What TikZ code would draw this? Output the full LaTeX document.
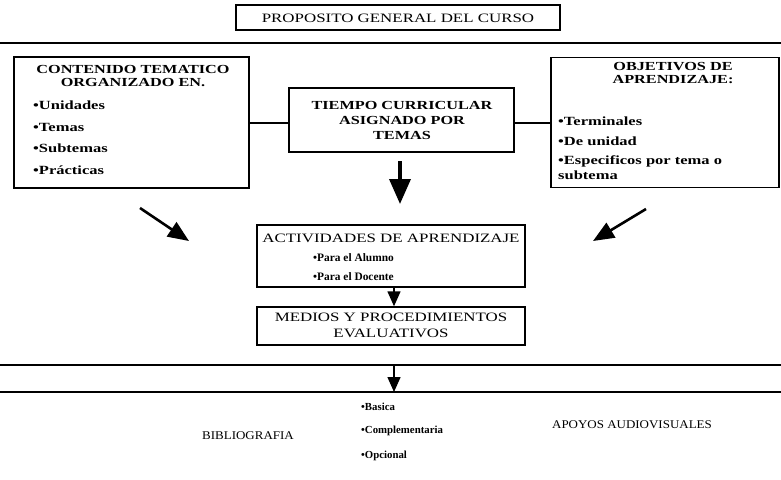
\documentclass[tikz,border=0pt]{standalone}
\usepackage{fontspec}
\setmainfont{Liberation Serif}[FakeStretch=1.32]
\newfontfamily\midfont{Liberation Serif}[FakeStretch=1.1]
\newfontfamily\plainfont{Liberation Serif}
\usetikzlibrary{arrows.meta}
\tikzset{
  boxst/.style={draw, line width=1.4pt, inner sep=0pt},
  hd/.style={inner sep=0pt, font=\fontsize{12.8}{14}\selectfont},
  hdb/.style={inner sep=0pt, font=\fontsize{12.3}{14}\selectfont\bfseries},
  bl/.style={inner sep=0pt, anchor=west, font=\fontsize{12.5}{14}\selectfont\bfseries},
  sb/.style={inner sep=0pt, anchor=west, font=\plainfont\fontsize{11.4}{13}\selectfont\bfseries},
  sbb/.style={inner sep=0pt, anchor=west, font=\plainfont\fontsize{10.8}{12}\selectfont\bfseries},
  bt/.style={inner sep=0pt, font=\midfont\fontsize{11.8}{13}\selectfont},
  rule/.style={line width=1.6pt},
  conn/.style={line width=1.1pt},
  bigarr/.style={line width=3.6pt, -{Triangle[width=21pt,length=25pt]}},
  diagarr/.style={line width=2.6pt, -{Triangle[width=17pt,length=21pt]}},
  smallarr/.style={line width=1.4pt, -{Triangle[width=13pt,length=15pt]}}
}
\begin{document}
\begin{tikzpicture}[x=1pt,y=-1pt]
\useasboundingbox (0,0) rectangle (781,479);
% title
\node[boxst, line width=1.2pt, minimum width=324pt, minimum height=25pt] (title) at (398,17.5) {};
\node[hd] (titletxt) at (398,18) {PROPOSITO GENERAL DEL CURSO};
% top rule
\coordinate (r1a) at (0,43);
\coordinate (r1b) at (781,43);
\draw[rule] (r1a) -- (r1b);
% left box
\node[boxst, minimum width=235pt, minimum height=131pt] (lbox) at (131.5,122.5) {};
\node[hdb] (l1) at (133,69) {CONTENIDO TEMATICO};
\node[hdb] (l2) at (133,83) {ORGANIZADO EN.};
\node[bl] (lu) at (33,105) {•Unidades};
\node[bl] (lt) at (33,127) {•Temas};
\node[bl] (ls) at (33,148) {•Subtemas};
\node[bl] (lp) at (33,170) {•Prácticas};
% middle box
\node[boxst, minimum width=225pt, minimum height=64pt] (tbox) at (401.5,120) {};
\node[hdb] (t1) at (402,105) {TIEMPO CURRICULAR};
\node[hdb] (t2) at (402,120) {ASIGNADO POR};
\node[hdb] (t3) at (402,135) {TEMAS};
% right box
\node[boxst, minimum width=228pt, minimum height=130pt] (rbox) at (665,122.5) {};
\node[hdb] (r1) at (673,67) {OBJETIVOS DE};
\node[hdb] (r2) at (673,80) {APRENDIZAJE:};
\node[bl] (rt) at (558,121) {•Terminales};
\node[bl] (rd) at (558,141) {•De unidad};
\node[bl] (re) at (558,161) {•Especificos por tema o};
\node[bl] (rs) at (558,175) {subtema};
% connectors
\draw[conn] (lbox.east |- 0,123) -- (tbox.west |- 0,123);
\draw[conn] (tbox.east |- 0,123) -- (rbox.west |- 0,123);
% actividades
\node[boxst, minimum width=268pt, minimum height=62pt] (act) at (391,256) {};
\node[hd] (a1) at (391,238) {ACTIVIDADES DE APRENDIZAJE};
\node[sb] (a2) at (313,258) {•Para el Alumno};
\node[sb] (a3) at (313,277) {•Para el Docente};
% medios
\node[boxst, minimum width=268pt, minimum height=38pt] (med) at (391,326) {};
\node[hd] (m1) at (391,317) {MEDIOS Y PROCEDIMIENTOS};
\node[hd] (m2) at (391,333) {EVALUATIVOS};
% arrows
\coordinate (ba) at (400,161);
\coordinate (bb) at (400,204);
\draw[bigarr] (ba) -- (bb);
\coordinate (dl1) at (140,208);
\coordinate (dl2) at (189,241);
\draw[diagarr] (dl1) -- (dl2);
\coordinate (dr1) at (646,209);
\coordinate (dr2) at (593,241);
\draw[diagarr] (dr1) -- (dr2);
\draw[smallarr] (act.south -| 394,0) -- (med.north -| 394,0);
% lower rules
\coordinate (r2a) at (0,365);
\coordinate (r2b) at (781,365);
\coordinate (r3a) at (0,392);
\coordinate (r3b) at (781,392);
\draw[rule] (r2a) -- (r2b);
\draw[rule] (r3a) -- (r3b);
\coordinate (la) at (394,365);
\coordinate (lb) at (394,392);
\draw[smallarr] (la) -- (lb);
% bottom texts
\node[bt] (bib) at (248,436) {BIBLIOGRAFIA};
\node[sbb] (bb1) at (361,407) {•Basica};
\node[sbb] (bb2) at (361,431) {•Complementaria};
\node[sbb] (bb3) at (361,456) {•Opcional};
\node[bt] (apo) at (632,425) {APOYOS AUDIOVISUALES};
\end{tikzpicture}
\end{document}
